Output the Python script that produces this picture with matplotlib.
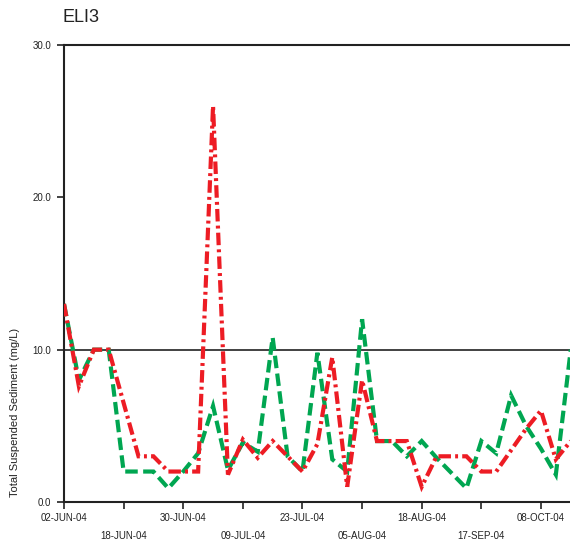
import numpy as np
import matplotlib
matplotlib.use("Agg")
import matplotlib.pyplot as plt

plt.rcParams['font.family'] = ['Liberation Sans', 'DejaVu Sans']

# sample number along the x axis (categorical, equally spaced)
samples = np.arange(35)

# tick labels every 4 samples
tick_pos = [0, 4, 8, 12, 16, 20, 24, 28, 32]
tick_labels = ["02-JUN-04", "18-JUN-04", "30-JUN-04", "09-JUL-04", "23-JUL-04",
               "05-AUG-04", "18-AUG-04", "17-SEP-04", "08-OCT-04"]

# TSS (mg/L)
tss_red = [13.0, 7.6, 10.0, 10.0, 6.5, 3.0, 3.0, 2.0, 2.0, 2.0,
           26.0, 1.8, 4.1, 2.9, 4.0, 3.0, 2.0, 3.8, 9.5, 1.0,
           8.0, 4.0, 4.0, 4.0, 1.0, 3.0, 3.0, 3.0, 2.0, 2.0,
           3.4, 4.8, 6.0, 2.8, 4.0]
tss_green = [13.0, 8.0, 10.0, 10.0, 2.0, 2.0, 2.0, 0.9, 2.0, 3.2,
             6.3, 2.1, 3.9, 3.3, 10.8, 3.0, 2.0, 9.8, 2.8, 2.0,
             12.0, 4.0, 4.0, 3.0, 4.0, 2.9, 1.9, 0.9, 4.0, 3.2,
             7.0, 5.0, 3.5, 1.8, 10.0]

fig = plt.figure(figsize=(5.70, 5.49), dpi=100)
ax = fig.add_axes([64/570, 1 - 502/549, 1 - 64/570, (502 - 45)/549])

ax.plot(samples, tss_green, color="#00a651", lw=3, dashes=(3, 1.3),
        dash_joinstyle="miter", dash_capstyle="butt", zorder=3)
ax.plot(samples, tss_red, color="#ed1c24", lw=3, dashes=(3, 1.0, 0.7, 1.0),
        dash_joinstyle="miter", dash_capstyle="butt", zorder=4)

ax.axhline(10, color="#333333", lw=1.3, zorder=2)

ax.set_xlim(0, 33.95)
ax.set_ylim(0, 30)

ax.set_yticks([0, 10, 20, 30])
ax.set_yticklabels(["0.0", "10.0", "20.0", "30.0"])

# alternate labels on two rows
ax.set_xticks(tick_pos[0::2])
ax.set_xticklabels(tick_labels[0::2])
ax.set_xticks(tick_pos[1::2], minor=True)
ax.set_xticklabels(tick_labels[1::2], minor=True)

ax.tick_params(axis="both", which="both", direction="out", length=5, width=1.2,
               labelsize=7, colors="#222222")
ax.tick_params(axis="x", which="major", pad=3)
ax.tick_params(axis="x", which="minor", pad=16)
ax.tick_params(axis="y", pad=4)

for s in ["left", "bottom", "top"]:
    ax.spines[s].set_linewidth(1.5)
    ax.spines[s].set_color("#222222")
ax.spines["right"].set_visible(False)

fig.text(15/570, 1 - 412/549, "Total Suspended Sediment (mg/L)", rotation=90,
         ha="center", va="center", fontsize=8, color="#222222")
fig.text(63/570, 1 - 18/549, "ELI3", ha="left", va="center", fontsize=13,
         color="#222222")

fig.savefig("out.png", dpi=100)
